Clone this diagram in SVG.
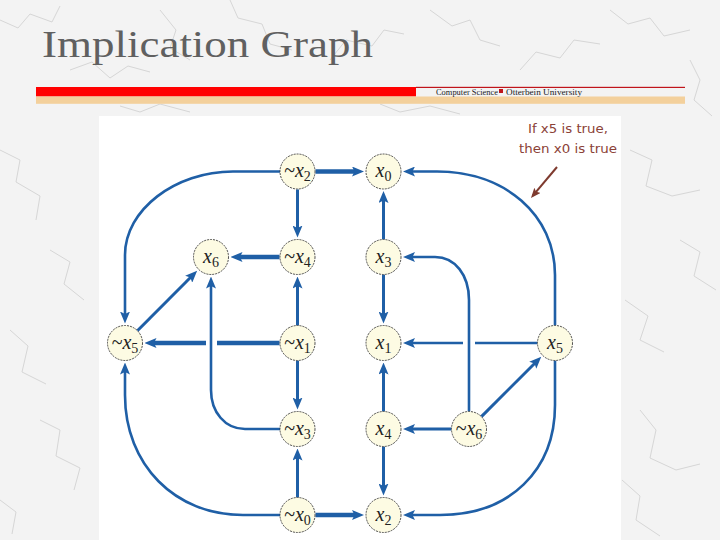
<svg xmlns="http://www.w3.org/2000/svg" width="720" height="540" viewBox="0 0 720 540">
<style>
.crack{fill:none;stroke:#d6d6d6;stroke-width:1}
.e{fill:none;stroke:#1f5fa6;stroke-width:3;marker-end:url(#ah)}
.e0{fill:none;stroke:#1f5fa6;stroke-width:3}
.thick{stroke-width:4.5}
.thin{stroke-width:2.6}
.nd circle{fill:#fdfbe3;stroke:#3a3a3a;stroke-width:0.9;stroke-dasharray:2 1}
.nd text{font-family:"Liberation Serif","Times New Roman",serif;font-size:20px;fill:#222;text-anchor:middle}
.nd .v{font-style:italic}
.nd .s{font-size:14px}
.ann{font-family:"DejaVu Sans","Liberation Sans",sans-serif;font-size:13px;fill:#8b4237;text-anchor:middle}
</style>
<defs>
<marker id="ah" viewBox="0 0 12 10" refX="5" refY="5" markerWidth="12" markerHeight="10" markerUnits="userSpaceOnUse" orient="auto"><path d="M0,0 L12,5 L0,10 L2.5,5 z" fill="#1f5fa6"/></marker>
<marker id="bh" viewBox="0 0 10 8" refX="7" refY="4" markerWidth="10" markerHeight="8" markerUnits="userSpaceOnUse" orient="auto"><path d="M0,0 L10,4 L0,8 L2,4 z" fill="#7e3a2e"/></marker>
</defs>
<rect x="0" y="0" width="720" height="540" fill="#f3f3f3"/>
<g id="texture">
<polyline class="crack" points="0,20 18,28 30,14 52,22 60,6"/>
<polyline class="crack" points="70,70 92,62 110,78 128,66 150,72"/>
<polyline class="crack" points="160,10 176,30 170,48 190,60"/>
<polyline class="crack" points="230,0 238,18 262,24 270,44 292,50"/>
<polyline class="crack" points="330,60 346,40 372,46 384,30 404,34"/>
<polyline class="crack" points="430,10 452,26 470,20 480,40 500,46"/>
<polyline class="crack" points="520,70 536,52 560,58 574,40 600,44"/>
<polyline class="crack" points="610,10 628,24 650,18 664,36 690,30"/>
<polyline class="crack" points="690,60 700,80 694,100 712,116"/>
<polyline class="crack" points="0,150 20,160 16,182 40,196 36,220"/>
<polyline class="crack" points="50,250 70,262 64,284 84,300"/>
<polyline class="crack" points="10,330 28,346 22,372 46,384"/>
<polyline class="crack" points="40,420 60,430 56,456 80,468 74,490"/>
<polyline class="crack" points="0,500 16,512 12,534"/>
<polyline class="crack" points="630,150 652,160 646,186 672,196 700,190"/>
<polyline class="crack" points="680,240 700,252 694,276 716,290"/>
<polyline class="crack" points="625,300 648,316 640,340 664,352"/>
<polyline class="crack" points="640,410 656,430 650,458 676,470 700,464"/>
<polyline class="crack" points="622,480 640,496 636,520 660,536"/>
<polyline class="crack" points="120,106 140,112 160,104 190,112"/>
<polyline class="crack" points="380,104 400,112 430,106 460,114"/>
</g>
<text x="42" y="57" font-family="Liberation Serif,'Times New Roman',serif" font-size="38" fill="#606060" textLength="331" lengthAdjust="spacingAndGlyphs">Implication Graph</text>
<rect x="36" y="87" width="380" height="9.5" fill="#ff0000"/>
<rect x="416" y="86.8" width="269" height="1.2" fill="#c0141a"/>
<rect x="36" y="96.5" width="649" height="7.3" fill="#f3d09c"/>
<text x="436" y="94.5" font-family="Liberation Serif,'Times New Roman',serif" font-size="7.5" fill="#222" textLength="62" lengthAdjust="spacingAndGlyphs">Computer Science</text>
<rect x="499" y="89" width="4" height="4" fill="#c0141a"/>
<text x="506" y="94.5" font-family="Liberation Serif,'Times New Roman',serif" font-size="7.5" fill="#222" textLength="76" lengthAdjust="spacingAndGlyphs">Otterbein University</text>
<rect x="99" y="116" width="522" height="424" fill="#ffffff"/>
<text class="ann" x="568" y="133" textLength="80" lengthAdjust="spacingAndGlyphs">If x5 is true,</text>
<text class="ann" x="568" y="153" textLength="98" lengthAdjust="spacingAndGlyphs">then x0 is true</text>
<path d="M557,167 L532.9,195.7" fill="none" stroke="#7e3a2e" stroke-width="2" marker-end="url(#bh)"/>
<g id="connectors">
<path class="e thick" d="M315.5,171.5 H357"/>
<path class="e" d="M297.5,189.5 V230.5"/>
<path class="e thin" d="M280,171.5 H233 C175,171.5 125,210 125,255 V316.5"/>
<path class="e thick" d="M279.5,257 H237.5"/>
<path class="e" d="M137.4,330.7 L192.2,275.7"/>
<path class="e0 thick" d="M279.5,343 H217"/>
<path class="e thick" d="M206,343 H151.5"/>
<path class="e" d="M297.5,325.5 V283.5"/>
<path class="e" d="M297.5,360.5 V402.5"/>
<path class="e" d="M297.5,497.5 V455.5"/>
<path class="e thick" d="M315.5,515 H357"/>
<path class="e thin" d="M280,515 H243 C175,515 125,465 125,395 V369.5"/>
<path class="e thin" d="M280,429 H245 C225,429 211,412 211,390 V283.5"/>
<path class="e" d="M383.5,239.5 V198"/>
<path class="e" d="M383.5,274.5 V316.5"/>
<path class="e" d="M383.5,411.5 V369.5"/>
<path class="e" d="M383.5,446.5 V488.5"/>
<path class="e thin" d="M555,325.5 V275 C555,215 505,171.5 437,171.5 H410"/>
<path class="e0 thin" d="M537.5,343 H475"/>
<path class="e thin" d="M463,343 H410"/>
<path class="e thin" d="M555,360.5 V405 C555,470 510,515 440,515 H410"/>
<path class="e thin" d="M469,411.5 V300 C469,275 455,257 435,257 H410"/>
<path class="e" d="M451.5,429 H410"/>
<path class="e" d="M481.4,416.6 L536.3,361.7"/>
</g>
<g id="n_nx2" class="nd"><circle cx="297.5" cy="171.5" r="17.5"/><text x="297.5" y="177">~<tspan class="v">x</tspan><tspan class="s" dy="4">2</tspan></text></g>
<g id="n_x0" class="nd"><circle cx="383.5" cy="171.5" r="17.5"/><text x="383.5" y="177"><tspan class="v">x</tspan><tspan class="s" dy="4">0</tspan></text></g>
<g id="n_x6" class="nd"><circle cx="211" cy="257" r="17.5"/><text x="211" y="262.5"><tspan class="v">x</tspan><tspan class="s" dy="4">6</tspan></text></g>
<g id="n_nx4" class="nd"><circle cx="297.5" cy="257" r="17.5"/><text x="297.5" y="262.5">~<tspan class="v">x</tspan><tspan class="s" dy="4">4</tspan></text></g>
<g id="n_x3" class="nd"><circle cx="383.5" cy="257" r="17.5"/><text x="383.5" y="262.5"><tspan class="v">x</tspan><tspan class="s" dy="4">3</tspan></text></g>
<g id="n_nx5" class="nd"><circle cx="125" cy="343" r="17.5"/><text x="125" y="348.5">~<tspan class="v">x</tspan><tspan class="s" dy="4">5</tspan></text></g>
<g id="n_nx1" class="nd"><circle cx="297.5" cy="343" r="17.5"/><text x="297.5" y="348.5">~<tspan class="v">x</tspan><tspan class="s" dy="4">1</tspan></text></g>
<g id="n_x1" class="nd"><circle cx="383.5" cy="343" r="17.5"/><text x="383.5" y="348.5"><tspan class="v">x</tspan><tspan class="s" dy="4">1</tspan></text></g>
<g id="n_x5" class="nd"><circle cx="555" cy="343" r="17.5"/><text x="555" y="348.5"><tspan class="v">x</tspan><tspan class="s" dy="4">5</tspan></text></g>
<g id="n_nx3" class="nd"><circle cx="297.5" cy="429" r="17.5"/><text x="297.5" y="434.5">~<tspan class="v">x</tspan><tspan class="s" dy="4">3</tspan></text></g>
<g id="n_x4" class="nd"><circle cx="383.5" cy="429" r="17.5"/><text x="383.5" y="434.5"><tspan class="v">x</tspan><tspan class="s" dy="4">4</tspan></text></g>
<g id="n_nx6" class="nd"><circle cx="469" cy="429" r="17.5"/><text x="469" y="434.5">~<tspan class="v">x</tspan><tspan class="s" dy="4">6</tspan></text></g>
<g id="n_nx0" class="nd"><circle cx="297.5" cy="515" r="17.5"/><text x="297.5" y="520.5">~<tspan class="v">x</tspan><tspan class="s" dy="4">0</tspan></text></g>
<g id="n_x2" class="nd"><circle cx="383.5" cy="515" r="17.5"/><text x="383.5" y="520.5"><tspan class="v">x</tspan><tspan class="s" dy="4">2</tspan></text></g>
</svg>
